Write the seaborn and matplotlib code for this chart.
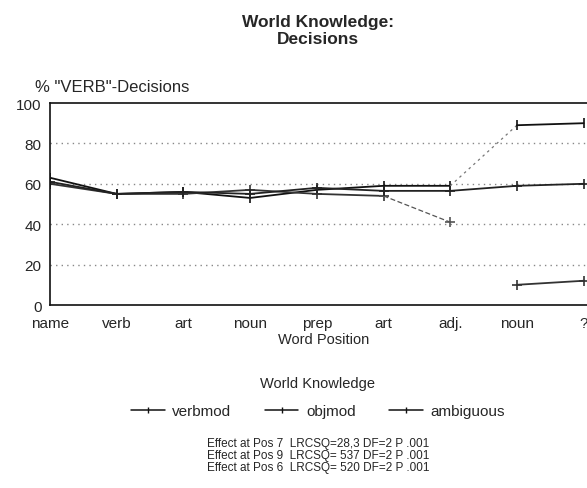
import matplotlib
matplotlib.use("Agg")
import matplotlib.pyplot as plt
import seaborn as sns
import pandas as pd

# word positions along the sentence
positions = ["name", "verb", "art", "noun", "prep", "art", "adj.", "noun", "?"]

# % "VERB"-decisions per condition
verbmod = [63, 55, 56, 53, 57, 59, 59, 89, 90]
objmod = [60, 55, 55, 57, 55, 54, 41, 10, 12]
ambiguous = [61, 55, 56, 55, 58, 56.5, 56.5, 59, 60]

series_names = ["verbmod", "objmod", "ambiguous"]
legend_labels = ["verbmod", "objmod", "ambiguous"]

y_ticks = [0, 20, 40, 60, 80, 100]

effects = [
    "Effect at Pos 7  LRCSQ=28,3 DF=2 P .001",
    "Effect at Pos 9  LRCSQ= 537 DF=2 P .001",
    "Effect at Pos 6  LRCSQ= 520 DF=2 P .001",
]

rows = []
for name, vals in zip(series_names, [verbmod, objmod, ambiguous]):
    for i, v in enumerate(vals):
        rows.append({"series": name, "pos": i, "pct": v})
df = pd.DataFrame(rows)

sns.set_style("white")
plt.rcParams["font.family"] = ["Liberation Sans", "DejaVu Sans"]

fig = plt.figure(figsize=(5.87, 4.89), dpi=100)
ax = fig.add_axes([50 / 587, 183 / 489, 547 / 587, 202 / 489])

# dotted reference lines
for yv in [20, 40, 60, 80]:
    ax.axhline(yv, color="#888888", lw=1.0, ls=(0, (1, 3)), zorder=0)


def draw(name, start, stop, color, mk, ls="-", lw=1.3):
    sub = df[(df["series"] == name) & (df["pos"] >= start) & (df["pos"] <= stop)]
    sns.lineplot(data=sub, x="pos", y="pct", ax=ax, color=color, lw=lw, linestyle=ls,
                 marker=mk, markersize=7, markeredgewidth=1.2, markeredgecolor=color)


# the scan is broken up in places: faint / missing segments kept as in the original
draw("verbmod", 0, 6, "#111111", "|")
draw("verbmod", 6, 7, "#777777", None, ls=(0, (2, 3)), lw=0.9)
draw("verbmod", 7, 8, "#111111", "|")
draw("objmod", 0, 5, "#333333", "+")
draw("objmod", 5, 6, "#555555", "+", ls=(0, (4, 2)), lw=0.9)
draw("objmod", 7, 8, "#333333", "+")
draw("ambiguous", 0, 8, "#222222", "+")

handles = [plt.Line2D([], [], color="#111111", lw=1.1, marker="|", markersize=5)
           for _ in series_names]

ax.set_xlim(0, 8.2)
ax.set_ylim(0, 100)
ax.set_xticks(range(len(positions)))
ax.set_xticklabels(positions, fontsize=11)
ax.set_yticks(y_ticks)
ax.set_yticklabels([str(t) for t in y_ticks], fontsize=11)
ax.tick_params(axis="x", direction="in", length=4, pad=8)
ax.tick_params(axis="y", direction="out", length=4, pad=2)
for s in ["left", "bottom", "top", "right"]:
    ax.spines[s].set_color("#111111")
    ax.spines[s].set_linewidth(1.2)
ax.set_xlabel("Word Position", fontsize=10.5, labelpad=1)
ax.set_ylabel("")

fig.text(35 / 587, 1 - 88 / 489, '% "VERB"-Decisions', fontsize=12, va="center", ha="left")
fig.text(318 / 587, 1 - 31 / 489, "World Knowledge:\nDecisions", fontsize=12.5,
         fontweight="bold", ha="center", va="center", linespacing=1.15)

leg = fig.legend(handles, legend_labels, loc="center", bbox_to_anchor=(318 / 587, 1 - 398 / 489),
                 ncol=3, frameon=False, fontsize=11, title="World Knowledge",
                 title_fontsize=10.5, handlelength=2.2, columnspacing=2.2, handletextpad=0.5)
leg._legend_box.sep = 10

fig.text(318 / 587, 1 - 456 / 489, "\n".join(effects), fontsize=8.5,
         ha="center", va="center", linespacing=1.05)

fig.savefig("out.png", dpi=100)
